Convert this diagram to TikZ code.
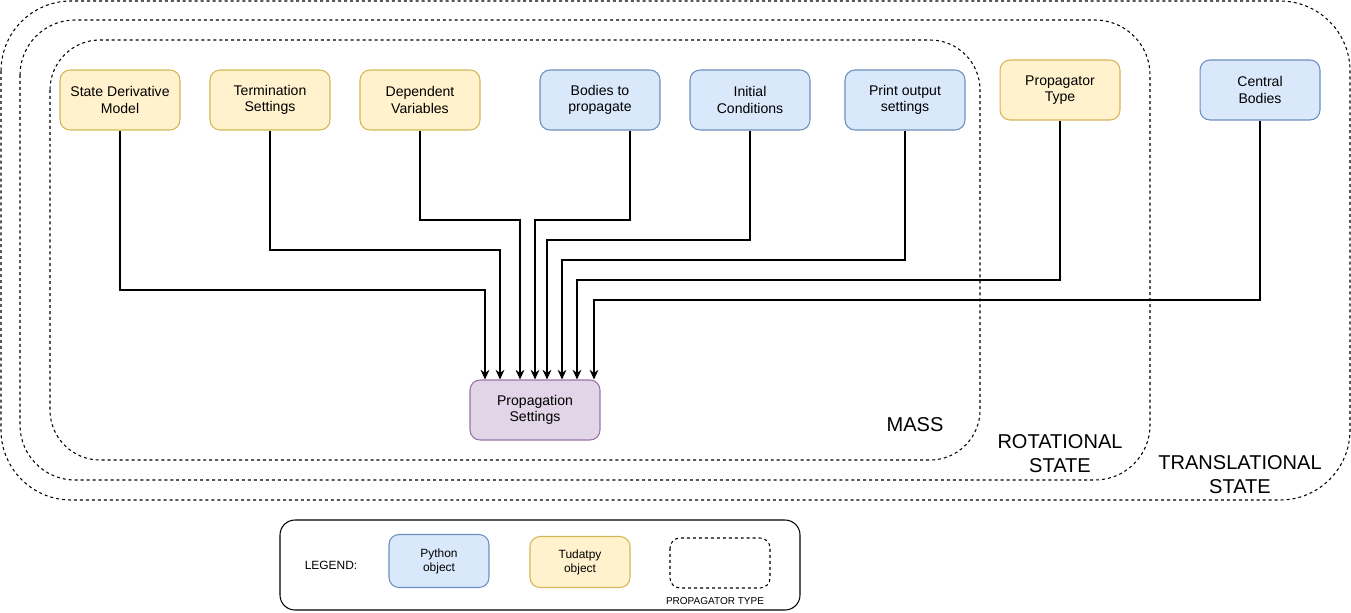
\documentclass[tikz,border=0pt]{standalone}
\usepackage{fontspec}
\setmainfont{Liberation Sans}
\usetikzlibrary{arrows.meta}
\definecolor{pyfill}{HTML}{DAE8FC}
\definecolor{pydraw}{HTML}{6C8EBF}
\definecolor{tudfill}{HTML}{FFF2CC}
\definecolor{tuddraw}{HTML}{D6B656}
\definecolor{setfill}{HTML}{E1D5E7}
\definecolor{setdraw}{HTML}{9673A6}

\begin{document}
\begin{tikzpicture}[x=0.02cm,y=-0.02cm,line width=0.6pt]
\tikzset{BoxStyle/.style ={shape=rectangle, rounded corners=0.2cm, minimum width=2.4cm, minimum height=1.2cm,
  align=center, font=\fontsize{8}{9.2}\selectfont}}
\tikzset{PythonStyle/.style ={BoxStyle, fill=pyfill, draw=pydraw}}
\tikzset{TudatStyle/.style ={BoxStyle, fill=tudfill, draw=tuddraw}}
\tikzset{TypeStyle/.style ={draw, dash pattern=on 1.7pt off 1.7pt}}
\tikzset{LabelStyle/.style ={align=center, font=\fontsize{11.4}{13.6}\selectfont}}
\tikzset{EdgeStyle/.style ={-{Stealth[length=5.5pt,width=5pt]}}}
\useasboundingbox (0,0) rectangle (1351,612);
% propagator types
\draw[TypeStyle, rounded corners=1.4cm] (1,1) rectangle (1350,500);
\draw[TypeStyle, rounded corners=1.1cm] (20,20) rectangle (1150,480);
\draw[TypeStyle, rounded corners=1cm] (50,40) rectangle (980,460);
\node[LabelStyle] (mass) at (915,425) {MASS};
\node[LabelStyle] (rot) at (1060,454) {ROTATIONAL\\STATE};
\node[LabelStyle] (trans) at (1240,475) {TRANSLATIONAL\\STATE};
% objects
\node[TudatStyle] (sdm) at (120,100) {State Derivative\\Model};
\node[TudatStyle] (term) at (270,100) {Termination\\Settings};
\node[TudatStyle] (dep) at (420,100) {Dependent\\Variables};
\node[PythonStyle] (bodies) at (600,100) {Bodies to\\propagate};
\node[PythonStyle] (init) at (750,100) {Initial\\Conditions};
\node[PythonStyle] (print) at (905,100) {Print output\\settings};
\node[TudatStyle] (ptype) at (1060,90) {Propagator\\Type};
\node[PythonStyle] (central) at (1260,90) {Central\\Bodies};
\node[BoxStyle, fill=setfill, draw=setdraw, minimum width=2.6cm] (prop) at (535,410) {Propagation\\Settings};
% connectors
\draw[EdgeStyle] (sdm.south) |- (485,290) -- (485,0 |- prop.north);
\draw[EdgeStyle] (term.south) |- (500,250) -- (500,0 |- prop.north);
\draw[EdgeStyle] (dep.south) |- (520,220) -- (520,0 |- prop.north);
\draw[EdgeStyle] (630,0 |- bodies.south) |- (535,220) -- (535,0 |- prop.north);
\draw[EdgeStyle] (init.south) |- (547,240) -- (547,0 |- prop.north);
\draw[EdgeStyle] (print.south) |- (562,260) -- (562,0 |- prop.north);
\draw[EdgeStyle] (ptype.south) |- (577,280) -- (577,0 |- prop.north);
\draw[EdgeStyle] (central.south) |- (594,300) -- (594,0 |- prop.north);
% legend
\draw[rounded corners=0.3cm] (280,520) rectangle (800,610);
\node[font=\fontsize{6.8}{8}\selectfont] (legend) at (331,565) {LEGEND:};
\node[PythonStyle, minimum width=2cm, minimum height=1.06cm, font=\fontsize{6.8}{8}\selectfont] (pyobj) at (439,561) {Python\\object};
\node[TudatStyle, minimum width=2cm, minimum height=1.02cm, font=\fontsize{6.8}{8}\selectfont] (tudobj) at (580,562) {Tudatpy\\object};
\draw[TypeStyle, rounded corners=0.2cm] (670,538) rectangle (770,588);
\node[font=\fontsize{5.7}{6}\selectfont] (typelabel) at (715,601) {PROPAGATOR TYPE};
\end{tikzpicture}
\end{document}
